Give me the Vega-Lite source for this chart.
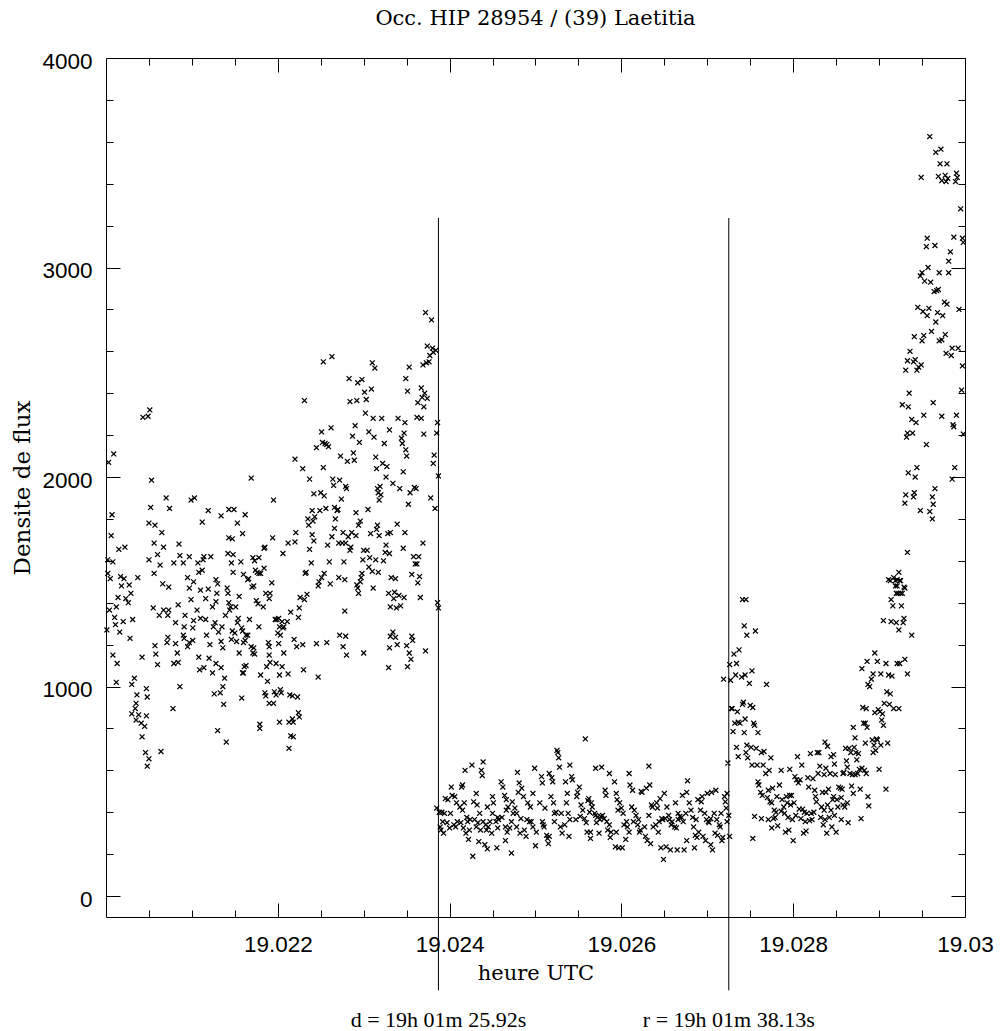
{
"$schema": "https://vega.github.io/schema/vega-lite/v6.json",
"width": 859,
"height": 859,
"autosize": {"type": "none"},
"padding": {"left": 106, "top": 58, "right": 36, "bottom": 114},
"background": "white",
"title": {"text": "Occ. HIP 28954 / (39) Laetitia", "font": "DejaVu Serif", "fontSize": 21, "fontWeight": "normal", "color": "black", "anchor": "middle", "baseline": "alphabetic", "offset": 4},
"config": {
  "view": {"stroke": null},
  "axis": {"labelFont": "Liberation Sans", "labelFontSize": 22.5, "labelColor": "black", "tickColor": "black", "tickWidth": 1, "domainColor": "black", "domainWidth": 1, "titleFont": "DejaVu Serif", "titleFontSize": 21, "titleFontWeight": "normal", "titleColor": "black", "grid": false, "labelOverlap": false, "labelFlush": false, "labelBound": false}
},
"datasets": {
"evt": [{"t": 19.02387, "label": "d = 19h 01m 25.92s"}, {"t": 19.02725, "label": "r = 19h 01m 38.13s"}],
"pts": [
{"t":19.02003,"f":2070},{"t":19.02009,"f":2110},{"t":19.02007,"f":1820},{"t":19.02006,"f":1720},{"t":19.02002,"f":1605},{"t":19.02008,"f":1595},{"t":19.02002,"f":1540},{"t":19.02005,"f":1515},{"t":19.02015,"f":1655},{"t":19.02022,"f":1665},
{"t":19.02017,"f":1525},{"t":19.02021,"f":1515},{"t":19.02018,"f":1480},{"t":19.02027,"f":1485},{"t":19.02029,"f":1445},{"t":19.02023,"f":1420},{"t":19.02026,"f":1400},{"t":19.02014,"f":1425},{"t":19.02004,"f":1365},{"t":19.02012,"f":1380},
{"t":19.02010,"f":1330},{"t":19.02020,"f":1310},{"t":19.02031,"f":1320},{"t":19.02011,"f":1295},{"t":19.02016,"f":1260},{"t":19.02028,"f":1230},{"t":19.02001,"f":1270},{"t":19.02008,"f":1150},{"t":19.02013,"f":1110},{"t":19.02012,"f":1020},
{"t":19.02030,"f":1010},{"t":19.02033,"f":1040},{"t":19.02037,"f":1520},{"t":19.02042,"f":1140},{"t":19.02036,"f":960},{"t":19.02035,"f":920},{"t":19.02034,"f":895},{"t":19.02030,"f":870},{"t":19.02038,"f":865},{"t":19.02047,"f":860},
{"t":19.02035,"f":840},{"t":19.02041,"f":825},{"t":19.02045,"f":810},{"t":19.02042,"f":760},{"t":19.02046,"f":685},{"t":19.02050,"f":655},{"t":19.02048,"f":620},{"t":19.02047,"f":990},{"t":19.02048,"f":950},{"t":19.02043,"f":2285},
{"t":19.02049,"f":2290},{"t":19.02051,"f":2320},{"t":19.02053,"f":1985},{"t":19.02052,"f":1855},{"t":19.02050,"f":1780},{"t":19.02057,"f":1770},{"t":19.02065,"f":1735},{"t":19.02056,"f":1685},{"t":19.02067,"f":1665},{"t":19.02070,"f":1900},
{"t":19.02074,"f":1850},{"t":19.02050,"f":1605},{"t":19.02060,"f":1630},{"t":19.02063,"f":1580},{"t":19.02056,"f":1540},{"t":19.02066,"f":1490},{"t":19.02073,"f":1475},{"t":19.02055,"f":1375},{"t":19.02062,"f":1340},{"t":19.02072,"f":1340},
{"t":19.02067,"f":1365},{"t":19.02073,"f":1365},{"t":19.02057,"f":1195},{"t":19.02058,"f":1155},{"t":19.02060,"f":1105},{"t":19.02072,"f":1235},{"t":19.02071,"f":1210},{"t":19.02078,"f":895},{"t":19.02064,"f":690},{"t":19.02079,"f":1110},
{"t":19.02084,"f":1115},{"t":19.02083,"f":1160},{"t":19.02081,"f":1205},{"t":19.02085,"f":1680},{"t":19.02079,"f":1590},{"t":19.02086,"f":1625},{"t":19.02090,"f":1590},{"t":19.02084,"f":1390},{"t":19.02081,"f":1305},{"t":19.02092,"f":1340},
{"t":19.02091,"f":1285},{"t":19.02090,"f":1245},{"t":19.02091,"f":1230},{"t":19.02086,"f":1000},{"t":19.02095,"f":1520},{"t":19.02097,"f":1470},{"t":19.02102,"f":1500},{"t":19.02097,"f":1620},{"t":19.02107,"f":1590},{"t":19.02113,"f":1605},
{"t":19.02114,"f":1620},{"t":19.02122,"f":1620},{"t":19.02108,"f":1545},{"t":19.02112,"f":1555},{"t":19.02099,"f":1890},{"t":19.02103,"f":1900},{"t":19.02119,"f":1840},{"t":19.02112,"f":1785},{"t":19.02099,"f":1415},{"t":19.02106,"f":1365},
{"t":19.02102,"f":1315},{"t":19.02101,"f":1280},{"t":19.02097,"f":1210},{"t":19.02101,"f":1220},{"t":19.02095,"f":1190},{"t":19.02110,"f":1325},{"t":19.02116,"f":1320},{"t":19.02110,"f":1460},{"t":19.02119,"f":1465},{"t":19.02128,"f":1510},
{"t":19.02130,"f":1490},{"t":19.02116,"f":1420},{"t":19.02124,"f":1380},{"t":19.02128,"f":1405},{"t":19.02108,"f":1140},{"t":19.02109,"f":1080},{"t":19.02114,"f":1090},{"t":19.02120,"f":1135},{"t":19.02124,"f":1065},{"t":19.02128,"f":1110},
{"t":19.02121,"f":1200},{"t":19.02117,"f":1245},{"t":19.02125,"f":1285},{"t":19.02127,"f":1305},{"t":19.02131,"f":1260},{"t":19.02135,"f":1285},{"t":19.02134,"f":1090},{"t":19.02138,"f":1040},{"t":19.02136,"f":1000},{"t":19.02126,"f":965},
{"t":19.02133,"f":970},{"t":19.02137,"f":915},{"t":19.02130,"f":790},{"t":19.02140,"f":735},{"t":19.02134,"f":1215},{"t":19.02136,"f":1185},{"t":19.02129,"f":1445},{"t":19.02134,"f":1815},{"t":19.02143,"f":1845},{"t":19.02149,"f":1845},
{"t":19.02143,"f":1710},{"t":19.02147,"f":1705},{"t":19.02153,"f":1780},{"t":19.02159,"f":1730},{"t":19.02162,"f":1820},{"t":19.02142,"f":1635},{"t":19.02148,"f":1630},{"t":19.02146,"f":1590},{"t":19.02157,"f":1595},{"t":19.02148,"f":1545},
{"t":19.02160,"f":1535},{"t":19.02165,"f":1510},{"t":19.02171,"f":1615},{"t":19.02178,"f":1615},{"t":19.02173,"f":1600},{"t":19.02176,"f":1545},{"t":19.02180,"f":1540},{"t":19.02184,"f":1565},{"t":19.02174,"f":1555},{"t":19.02166,"f":1515},
{"t":19.02170,"f":1475},{"t":19.02172,"f":1480},{"t":19.02185,"f":1665},{"t":19.02195,"f":1890},{"t":19.02193,"f":1495},{"t":19.02186,"f":1445},{"t":19.02191,"f":1445},{"t":19.02190,"f":1420},{"t":19.02183,"f":1380},{"t":19.02175,"f":1410},
{"t":19.02177,"f":1395},{"t":19.02155,"f":1430},{"t":19.02141,"f":1470},{"t":19.02142,"f":1445},{"t":19.02143,"f":1400},{"t":19.02145,"f":1380},{"t":19.02151,"f":1380},{"t":19.02144,"f":1365},{"t":19.02139,"f":1340},{"t":19.02154,"f":1325},
{"t":19.02153,"f":1305},{"t":19.02167,"f":1320},{"t":19.02158,"f":1280},{"t":19.02159,"f":1265},{"t":19.02147,"f":1265},{"t":19.02150,"f":1255},{"t":19.02146,"f":1225},{"t":19.02152,"f":1215},{"t":19.02160,"f":1210},{"t":19.02163,"f":1245},
{"t":19.02165,"f":1245},{"t":19.02162,"f":1220},{"t":19.02169,"f":1190},{"t":19.02172,"f":1185},{"t":19.02171,"f":1160},{"t":19.02173,"f":1155},{"t":19.02155,"f":1160},{"t":19.02163,"f":1100},{"t":19.02161,"f":1095},{"t":19.02159,"f":1065},
{"t":19.02160,"f":1065},{"t":19.02178,"f":1285},{"t":19.02189,"f":1210},{"t":19.02190,"f":1190},{"t":19.02190,"f":1150},{"t":19.02191,"f":1115},{"t":19.02187,"f":1095},{"t":19.02180,"f":1055},{"t":19.02188,"f":1025},{"t":19.02198,"f":1110},
{"t":19.02202,"f":1055},{"t":19.02205,"f":1095},{"t":19.02212,"f":1060},{"t":19.02207,"f":1160},{"t":19.02201,"f":1205},{"t":19.02200,"f":1255},{"t":19.02202,"f":1285},{"t":19.02203,"f":1245},{"t":19.02206,"f":1280},{"t":19.02207,"f":1285},
{"t":19.02197,"f":1320},{"t":19.02199,"f":1320},{"t":19.02201,"f":1325},{"t":19.02205,"f":1310},{"t":19.02211,"f":1310},{"t":19.02215,"f":1355},{"t":19.02219,"f":1225},{"t":19.02222,"f":1190},{"t":19.02224,"f":1330},{"t":19.02225,"f":1375},
{"t":19.02226,"f":1425},{"t":19.02231,"f":1415},{"t":19.02229,"f":1200},{"t":19.02230,"f":1080},{"t":19.02223,"f":950},{"t":19.02217,"f":955},{"t":19.02214,"f":960},{"t":19.02198,"f":960},{"t":19.02195,"f":920},{"t":19.02186,"f":955},
{"t":19.02185,"f":970},{"t":19.02190,"f":920},{"t":19.02196,"f":975},{"t":19.02204,"f":970},{"t":19.02203,"f":985},{"t":19.02158,"f":945},{"t":19.02213,"f":830},{"t":19.02218,"f":830},{"t":19.02224,"f":875},{"t":19.02225,"f":855},
{"t":19.02217,"f":845},{"t":19.02215,"f":765},{"t":19.02218,"f":760},{"t":19.02213,"f":705},{"t":19.02202,"f":830},{"t":19.02179,"f":820},{"t":19.02179,"f":800},{"t":19.02220,"f":2085},{"t":19.02229,"f":2040},{"t":19.02221,"f":1735},
{"t":19.02220,"f":1690},{"t":19.02212,"f":1685},{"t":19.02206,"f":1635},{"t":19.02231,"f":2365},{"t":19.02232,"f":1540},{"t":19.02194,"f":1710},{"t":19.02184,"f":1660},{"t":19.02178,"f":1540},{"t":19.02169,"f":1995},
{"t":19.02372,"f":2785},{"t":19.02379,"f":2750},{"t":19.02374,"f":2625},{"t":19.02380,"f":2615},{"t":19.02384,"f":2605},{"t":19.02381,"f":2595},{"t":19.02377,"f":2580},{"t":19.02373,"f":2545},{"t":19.02376,"f":2550},{"t":19.02369,"f":2535},
{"t":19.02353,"f":2525},{"t":19.02310,"f":2545},{"t":19.02313,"f":2520},{"t":19.02263,"f":2575},{"t":19.02253,"f":2550},{"t":19.02283,"f":2470},{"t":19.02293,"f":2450},{"t":19.02298,"f":2465},{"t":19.02309,"f":2420},{"t":19.02301,"f":2405},
{"t":19.02349,"f":2470},{"t":19.02351,"f":2410},{"t":19.02367,"f":2425},{"t":19.02371,"f":2400},{"t":19.02374,"f":2375},{"t":19.02368,"f":2380},{"t":19.02363,"f":2355},{"t":19.02370,"f":2335},{"t":19.02284,"f":2360},{"t":19.02292,"f":2365},
{"t":19.02303,"f":2370},{"t":19.02302,"f":2305},{"t":19.02311,"f":2280},{"t":19.02321,"f":2280},{"t":19.02340,"f":2280},{"t":19.02348,"f":2260},{"t":19.02362,"f":2285},{"t":19.02367,"f":2280},{"t":19.02386,"f":2260},{"t":19.02385,"f":2210},
{"t":19.02370,"f":2205},{"t":19.02330,"f":2225},{"t":19.02347,"f":2210},{"t":19.02344,"f":2185},{"t":19.02345,"f":2160},{"t":19.02349,"f":2130},{"t":19.02350,"f":2100},{"t":19.02324,"f":2160},{"t":19.02312,"f":2190},{"t":19.02306,"f":2215},
{"t":19.02290,"f":2245},{"t":19.02287,"f":2195},{"t":19.02295,"f":2165},{"t":19.02262,"f":2235},{"t":19.02251,"f":2215},{"t":19.02252,"f":2165},{"t":19.02255,"f":2160},{"t":19.02259,"f":2145},{"t":19.02257,"f":2155},{"t":19.02245,"f":2140},
{"t":19.02273,"f":2100},{"t":19.02281,"f":2075},{"t":19.02288,"f":2115},{"t":19.02289,"f":2080},{"t":19.02314,"f":2095},{"t":19.02315,"f":2040},{"t":19.02322,"f":2065},{"t":19.02327,"f":2050},{"t":19.02326,"f":2000},{"t":19.02334,"f":1970},
{"t":19.02346,"f":2025},{"t":19.02382,"f":2105},{"t":19.02381,"f":2065},{"t":19.02387,"f":2005},{"t":19.02253,"f":2045},{"t":19.02237,"f":1990},{"t":19.02264,"f":1990},{"t":19.02265,"f":1960},{"t":19.02272,"f":1985},{"t":19.02279,"f":1955},
{"t":19.02280,"f":1945},{"t":19.02316,"f":1945},{"t":19.02319,"f":1955},{"t":19.02317,"f":1925},{"t":19.02320,"f":1915},{"t":19.02318,"f":1890},{"t":19.02342,"f":1945},{"t":19.02359,"f":1950},{"t":19.02361,"f":1945},{"t":19.02354,"f":1925},
{"t":19.02352,"f":1870},{"t":19.02378,"f":1900},{"t":19.02383,"f":1850},{"t":19.02242,"f":1920},{"t":19.02250,"f":1925},{"t":19.02254,"f":1910},{"t":19.02274,"f":1895},{"t":19.02305,"f":1845},{"t":19.02291,"f":1830},{"t":19.02240,"f":1840},
{"t":19.02249,"f":1840},{"t":19.02256,"f":1850},{"t":19.02266,"f":1855},{"t":19.02269,"f":1840},{"t":19.02270,"f":1845},{"t":19.02235,"f":1800},{"t":19.02236,"f":1770},{"t":19.02243,"f":1810},{"t":19.02241,"f":1790},{"t":19.02267,"f":1800},
{"t":19.02296,"f":1790},{"t":19.02294,"f":1770},{"t":19.02316,"f":1770},{"t":19.02315,"f":1750},{"t":19.02339,"f":1775},{"t":19.02240,"f":1725},{"t":19.02242,"f":1695},{"t":19.02266,"f":1755},{"t":19.02263,"f":1715},{"t":19.02276,"f":1735},
{"t":19.02282,"f":1715},{"t":19.02286,"f":1735},{"t":19.02291,"f":1720},{"t":19.02308,"f":1730},{"t":19.02318,"f":1720},{"t":19.02328,"f":1730},{"t":19.02331,"f":1735},{"t":19.02348,"f":1735},{"t":19.02258,"f":1675},{"t":19.02271,"f":1685},
{"t":19.02275,"f":1685},{"t":19.02279,"f":1685},{"t":19.02285,"f":1665},{"t":19.02284,"f":1650},{"t":19.02326,"f":1675},{"t":19.02325,"f":1640},{"t":19.02330,"f":1635},{"t":19.02346,"f":1660},{"t":19.02369,"f":1685},{"t":19.02300,"f":1650},
{"t":19.02304,"f":1650},{"t":19.02237,"f":1655},{"t":19.02239,"f":1590},{"t":19.02260,"f":1595},{"t":19.02277,"f":1595},{"t":19.02299,"f":1605},{"t":19.02307,"f":1615},{"t":19.02314,"f":1605},{"t":19.02323,"f":1600},{"t":19.02306,"f":1570},
{"t":19.02310,"f":1550},{"t":19.02317,"f":1545},{"t":19.02358,"f":1620},{"t":19.02364,"f":1620},{"t":19.02360,"f":1585},{"t":19.02362,"f":1585},{"t":19.02233,"f":1545},{"t":19.02254,"f":1540},{"t":19.02298,"f":1540},{"t":19.02297,"f":1520},
{"t":19.02296,"f":1500},{"t":19.02356,"f":1535},{"t":19.02365,"f":1525},{"t":19.02363,"f":1495},{"t":19.02251,"f":1520},{"t":19.02248,"f":1500},{"t":19.02247,"f":1480},{"t":19.02261,"f":1490},{"t":19.02271,"f":1520},{"t":19.02278,"f":1510},
{"t":19.02292,"f":1485},{"t":19.02293,"f":1470},{"t":19.02294,"f":1445},{"t":19.02311,"f":1470},{"t":19.02332,"f":1520},{"t":19.02337,"f":1515},{"t":19.02329,"f":1445},{"t":19.02336,"f":1450},{"t":19.02341,"f":1435},{"t":19.02335,"f":1420},
{"t":19.02347,"f":1425},{"t":19.02331,"f":1380},{"t":19.02338,"f":1375},{"t":19.02343,"f":1385},{"t":19.02366,"f":1425},{"t":19.02386,"f":1400},{"t":19.02387,"f":1375},{"t":19.02234,"f":1440},{"t":19.02278,"f":1360},{"t":19.02272,"f":1245},
{"t":19.02279,"f":1240},{"t":19.02276,"f":1190},{"t":19.02280,"f":1150},{"t":19.02245,"f":1205},{"t":19.02257,"f":1210},{"t":19.02300,"f":1160},{"t":19.02334,"f":1260},{"t":19.02331,"f":1240},{"t":19.02337,"f":1235},{"t":19.02330,"f":1185},
{"t":19.02339,"f":1200},{"t":19.02350,"f":1195},{"t":19.02356,"f":1240},{"t":19.02357,"f":1220},{"t":19.02353,"f":1160},{"t":19.02355,"f":1130},{"t":19.02351,"f":1095},{"t":19.02329,"f":1090},{"t":19.02372,"f":1170},{"t":19.02247,"f":1045},
{"t":19.02385,"f":420},{"t":19.02388,"f":400},{"t":19.02391,"f":400},{"t":19.02394,"f":395},{"t":19.02392,"f":355},{"t":19.02389,"f":330},{"t":19.02390,"f":315},{"t":19.02395,"f":465},{"t":19.02398,"f":460},{"t":19.02402,"f":520},
{"t":19.02403,"f":480},{"t":19.02406,"f":475},{"t":19.02397,"f":350},{"t":19.02400,"f":325},{"t":19.02405,"f":340},{"t":19.02409,"f":355},{"t":19.02408,"f":445},{"t":19.02412,"f":425},{"t":19.02414,"f":520},{"t":19.02415,"f":530},
{"t":19.02413,"f":350},{"t":19.02416,"f":325},{"t":19.02420,"f":375},{"t":19.02421,"f":355},{"t":19.02417,"f":445},{"t":19.02419,"f":300},{"t":19.02423,"f":315},{"t":19.02418,"f":600},{"t":19.02426,"f":625},{"t":19.02437,"f":600},
{"t":19.02438,"f":575},{"t":19.02439,"f":640},{"t":19.02427,"f":190},{"t":19.02428,"f":450},{"t":19.02431,"f":490},{"t":19.02432,"f":435},{"t":19.02429,"f":365},{"t":19.02433,"f":350},{"t":19.02435,"f":395},{"t":19.02436,"f":315},
{"t":19.02434,"f":260},{"t":19.02441,"f":245},{"t":19.02444,"f":225},{"t":19.02455,"f":230},{"t":19.02442,"f":340},{"t":19.02445,"f":330},{"t":19.02447,"f":355},{"t":19.02449,"f":300},{"t":19.02450,"f":475},{"t":19.02451,"f":445},
{"t":19.02456,"f":375},{"t":19.02457,"f":365},{"t":19.02460,"f":545},{"t":19.02462,"f":520},{"t":19.02464,"f":480},{"t":19.02466,"f":460},{"t":19.02468,"f":425},{"t":19.02461,"f":375},{"t":19.02465,"f":330},{"t":19.02467,"f":305},
{"t":19.02470,"f":325},{"t":19.02472,"f":205},{"t":19.02473,"f":450},{"t":19.02476,"f":420},{"t":19.02478,"f":395},{"t":19.02479,"f":590},{"t":19.02481,"f":540},{"t":19.02484,"f":515},{"t":19.02480,"f":495},{"t":19.02482,"f":300},
{"t":19.02487,"f":315},{"t":19.02490,"f":365},{"t":19.02493,"f":355},{"t":19.02495,"f":355},{"t":19.02486,"f":475},{"t":19.02491,"f":445},{"t":19.02494,"f":425},{"t":19.02497,"f":490},{"t":19.02499,"f":610},{"t":19.02500,"f":240},
{"t":19.02505,"f":445},{"t":19.02507,"f":570},{"t":19.02508,"f":540},{"t":19.02509,"f":340},{"t":19.02510,"f":330},{"t":19.02513,"f":290},{"t":19.02514,"f":275},{"t":19.02515,"f":250},{"t":19.02516,"f":585},{"t":19.02519,"f":565},
{"t":19.02520,"f":545},{"t":19.02518,"f":475},{"t":19.02521,"f":445},{"t":19.02522,"f":395},{"t":19.02524,"f":400},{"t":19.02525,"f":695},{"t":19.02526,"f":685},{"t":19.02527,"f":660},{"t":19.02528,"f":615},{"t":19.02530,"f":395},
{"t":19.02531,"f":300},{"t":19.02534,"f":340},{"t":19.02536,"f":445},{"t":19.02537,"f":490},{"t":19.02540,"f":625},{"t":19.02542,"f":570},{"t":19.02543,"f":555},{"t":19.02535,"f":545},{"t":19.02548,"f":475},{"t":19.02549,"f":495},
{"t":19.02551,"f":520},{"t":19.02553,"f":435},{"t":19.02555,"f":410},{"t":19.02557,"f":370},{"t":19.02559,"f":350},{"t":19.02560,"f":305},{"t":19.02558,"f":750},{"t":19.02561,"f":455},{"t":19.02562,"f":465},{"t":19.02565,"f":445},
{"t":19.02566,"f":425},{"t":19.02564,"f":275},{"t":19.02569,"f":395},{"t":19.02571,"f":350},{"t":19.02572,"f":375},{"t":19.02574,"f":300},{"t":19.02570,"f":610},{"t":19.02577,"f":615},{"t":19.02578,"f":385},{"t":19.02580,"f":370},
{"t":19.02583,"f":355},{"t":19.02584,"f":315},{"t":19.02581,"f":505},{"t":19.02582,"f":480},{"t":19.02586,"f":585},{"t":19.02587,"f":280},{"t":19.02588,"f":305},{"t":19.02592,"f":545},{"t":19.02594,"f":490},{"t":19.02595,"f":460},
{"t":19.02598,"f":445},{"t":19.02593,"f":235},{"t":19.02597,"f":230},{"t":19.02601,"f":230},{"t":19.02600,"f":420},{"t":19.02602,"f":395},{"t":19.02606,"f":355},{"t":19.02607,"f":330},{"t":19.02605,"f":270},{"t":19.02609,"f":585},
{"t":19.02610,"f":530},{"t":19.02613,"f":505},{"t":19.02612,"f":425},{"t":19.02615,"f":410},{"t":19.02617,"f":385},{"t":19.02619,"f":340},{"t":19.02621,"f":305},{"t":19.02623,"f":500},{"t":19.02624,"f":495},{"t":19.02629,"f":515},
{"t":19.02633,"f":530},{"t":19.02632,"f":620},{"t":19.02622,"f":315},{"t":19.02627,"f":330},{"t":19.02630,"f":265},{"t":19.02634,"f":250},{"t":19.02635,"f":435},{"t":19.02636,"f":425},{"t":19.02641,"f":445},{"t":19.02642,"f":420},
{"t":19.02640,"f":340},{"t":19.02644,"f":355},{"t":19.02647,"f":370},{"t":19.02648,"f":365},{"t":19.02646,"f":230},{"t":19.02649,"f":175},{"t":19.02652,"f":235},{"t":19.02645,"f":465},{"t":19.02650,"f":490},{"t":19.02653,"f":425},
{"t":19.02656,"f":365},{"t":19.02658,"f":340},{"t":19.02659,"f":355},{"t":19.02662,"f":330},{"t":19.02664,"f":325},{"t":19.02657,"f":220},{"t":19.02665,"f":220},{"t":19.02673,"f":220},{"t":19.02685,"f":230},{"t":19.02663,"f":445},
{"t":19.02666,"f":395},{"t":19.02670,"f":375},{"t":19.02671,"f":480},{"t":19.02676,"f":495},{"t":19.02677,"f":550},{"t":19.02679,"f":445},{"t":19.02681,"f":410},{"t":19.02683,"f":375},{"t":19.02687,"f":365},{"t":19.02686,"f":290},
{"t":19.02688,"f":280},{"t":19.02689,"f":460},{"t":19.02693,"f":450},{"t":19.02694,"f":475},{"t":19.02692,"f":410},{"t":19.02697,"f":395},{"t":19.02699,"f":365},{"t":19.02702,"f":350},{"t":19.02700,"f":490},{"t":19.02705,"f":495},
{"t":19.02710,"f":505},{"t":19.02698,"f":265},{"t":19.02704,"f":245},{"t":19.02706,"f":220},{"t":19.02708,"f":395},{"t":19.02711,"f":365},{"t":19.02714,"f":340},{"t":19.02716,"f":395},{"t":19.02712,"f":290},{"t":19.02717,"f":265},
{"t":19.02718,"f":280},{"t":19.02720,"f":475},{"t":19.02721,"f":450},{"t":19.02722,"f":420},{"t":19.02719,"f":1035},{"t":19.02723,"f":490},{"t":19.02726,"f":285},{"t":19.02725,"f":385},
{"t":19.02431,"f":330},{"t":19.02439,"f":355},{"t":19.02443,"f":315},{"t":19.02450,"f":395},{"t":19.02454,"f":355},{"t":19.02456,"f":325},{"t":19.02466,"f":410},{"t":19.02472,"f":355},{"t":19.02478,"f":330},{"t":19.02483,"f":370},
{"t":19.02497,"f":330},{"t":19.02501,"f":305},{"t":19.02508,"f":355},{"t":19.02516,"f":285},{"t":19.02522,"f":355},{"t":19.02529,"f":330},{"t":19.02540,"f":365},{"t":19.02547,"f":365},{"t":19.02552,"f":380},{"t":19.02563,"f":400},
{"t":19.02570,"f":385},{"t":19.02575,"f":365},{"t":19.02576,"f":380},{"t":19.02586,"f":340},{"t":19.02594,"f":305},{"t":19.02603,"f":340},{"t":19.02609,"f":305},{"t":19.02614,"f":355},{"t":19.02620,"f":365},{"t":19.02637,"f":330},
{"t":19.02643,"f":305},{"t":19.02651,"f":370},{"t":19.02655,"f":385},{"t":19.02666,"f":365},{"t":19.02668,"f":380},{"t":19.02672,"f":355},{"t":19.02675,"f":395},{"t":19.02684,"f":330},{"t":19.02690,"f":305},{"t":19.02695,"f":285},
{"t":19.02701,"f":355},{"t":19.02704,"f":370},{"t":19.02709,"f":300},{"t":19.02715,"f":330},{"t":19.02723,"f":355},{"t":19.02401,"f":395},{"t":19.02415,"f":410},{"t":19.02424,"f":365},{"t":19.02407,"f":330},{"t":19.02393,"f":300},
{"t":19.02422,"f":270},{"t":19.02465,"f":265},{"t":19.02489,"f":285},{"t":19.02539,"f":285},{"t":19.02564,"f":305},{"t":19.02628,"f":285},{"t":19.02676,"f":265},{"t":19.02632,"f":385},{"t":19.02596,"f":410},{"t":19.02511,"f":420},
{"t":19.02474,"f":395},{"t":19.02444,"f":425},{"t":19.02538,"f":395},
{"t":19.02741,"f":1415},{"t":19.02745,"f":1415},{"t":19.02743,"f":1290},{"t":19.02746,"f":1245},{"t":19.02756,"f":1265},{"t":19.02737,"f":1175},{"t":19.02731,"f":1155},{"t":19.02734,"f":1110},{"t":19.02726,"f":1105},{"t":19.02752,"f":1075},
{"t":19.02744,"f":1055},{"t":19.02740,"f":1045},{"t":19.02733,"f":1055},{"t":19.02727,"f":1030},{"t":19.02749,"f":1015},{"t":19.02769,"f":1010},{"t":19.02728,"f":895},{"t":19.02729,"f":895},{"t":19.02742,"f":925},{"t":19.02741,"f":915},
{"t":19.02735,"f":880},{"t":19.02750,"f":910},{"t":19.02753,"f":900},{"t":19.02732,"f":825},{"t":19.02736,"f":830},{"t":19.02744,"f":845},{"t":19.02738,"f":825},{"t":19.02754,"f":825},{"t":19.02755,"f":815},{"t":19.02730,"f":785},
{"t":19.02743,"f":780},{"t":19.02759,"f":780},{"t":19.02734,"f":710},{"t":19.02736,"f":665},{"t":19.02746,"f":720},{"t":19.02751,"f":710},{"t":19.02757,"f":705},{"t":19.02745,"f":685},{"t":19.02747,"f":660},{"t":19.02763,"f":685},
{"t":19.02766,"f":690},{"t":19.02724,"f":635},{"t":19.02752,"f":625},{"t":19.02758,"f":625},{"t":19.02765,"f":625},{"t":19.02774,"f":660},{"t":19.02772,"f":600},{"t":19.02768,"f":585},{"t":19.02759,"f":545},{"t":19.02760,"f":530},
{"t":19.02762,"f":495},{"t":19.02764,"f":480},{"t":19.02771,"f":505},{"t":19.02776,"f":515},{"t":19.02784,"f":530},{"t":19.02770,"f":470},{"t":19.02773,"f":450},{"t":19.02775,"f":445},{"t":19.02781,"f":475},{"t":19.02787,"f":460},
{"t":19.02792,"f":475},{"t":19.02798,"f":480},{"t":19.02778,"f":410},{"t":19.02780,"f":400},{"t":19.02786,"f":405},{"t":19.02790,"f":395},{"t":19.02771,"f":365},{"t":19.02777,"f":370},{"t":19.02779,"f":375},{"t":19.02775,"f":325},
{"t":19.02782,"f":335},{"t":19.02755,"f":380},{"t":19.02763,"f":370},{"t":19.02753,"f":275},{"t":19.02789,"f":425},{"t":19.02793,"f":445},{"t":19.02797,"f":435},{"t":19.02801,"f":445},{"t":19.02794,"f":375},{"t":19.02799,"f":365},
{"t":19.02803,"f":385},{"t":19.02807,"f":415},{"t":19.02791,"f":305},{"t":19.02795,"f":315},{"t":19.02800,"f":265},{"t":19.02786,"f":600},{"t":19.02796,"f":605},{"t":19.02802,"f":570},{"t":19.02804,"f":555},{"t":19.02806,"f":540},
{"t":19.02805,"f":665},{"t":19.02810,"f":625},{"t":19.02796,"f":480},{"t":19.02811,"f":415},{"t":19.02813,"f":400},{"t":19.02816,"f":395},{"t":19.02821,"f":395},{"t":19.02824,"f":400},{"t":19.02809,"f":370},{"t":19.02814,"f":355},
{"t":19.02819,"f":360},{"t":19.02822,"f":365},{"t":19.02812,"f":300},{"t":19.02815,"f":310},{"t":19.02808,"f":555},{"t":19.02817,"f":565},{"t":19.02818,"f":520},{"t":19.02823,"f":560},{"t":19.02825,"f":505},{"t":19.02826,"f":475},
{"t":19.02827,"f":450},{"t":19.02820,"f":680},{"t":19.02828,"f":685},{"t":19.02830,"f":685},{"t":19.02829,"f":585},{"t":19.02831,"f":620},{"t":19.02838,"f":610},{"t":19.02833,"f":425},{"t":19.02836,"f":410},{"t":19.02840,"f":435},
{"t":19.02844,"f":410},{"t":19.02832,"f":375},{"t":19.02837,"f":365},{"t":19.02842,"f":375},{"t":19.02848,"f":385},{"t":19.02835,"f":340},{"t":19.02845,"f":330},{"t":19.02839,"f":300},{"t":19.02850,"f":305},{"t":19.02834,"f":495},
{"t":19.02838,"f":495},{"t":19.02841,"f":510},{"t":19.02847,"f":475},{"t":19.02846,"f":460},{"t":19.02851,"f":460},{"t":19.02856,"f":470},{"t":19.02836,"f":580},{"t":19.02843,"f":585},{"t":19.02849,"f":580},{"t":19.02844,"f":665},
{"t":19.02847,"f":675},{"t":19.02848,"f":630},{"t":19.02837,"f":735},{"t":19.02840,"f":715},{"t":19.02853,"f":520},{"t":19.02855,"f":515},{"t":19.02857,"f":510},{"t":19.02852,"f":425},{"t":19.02858,"f":435},{"t":19.02860,"f":425},
{"t":19.02863,"f":445},{"t":19.02856,"f":365},{"t":19.02864,"f":350},{"t":19.02858,"f":585},{"t":19.02859,"f":590},{"t":19.02862,"f":645},{"t":19.02863,"f":615},{"t":19.02866,"f":585},{"t":19.02869,"f":580},{"t":19.02861,"f":705},
{"t":19.02865,"f":705},{"t":19.02871,"f":710},{"t":19.02867,"f":685},{"t":19.02873,"f":685},{"t":19.02876,"f":680},{"t":19.02874,"f":650},{"t":19.02872,"f":580},{"t":19.02875,"f":585},{"t":19.02877,"f":605},{"t":19.02880,"f":610},
{"t":19.02883,"f":600},{"t":19.02885,"f":585},{"t":19.02868,"f":525},{"t":19.02870,"f":490},{"t":19.02878,"f":510},{"t":19.02870,"f":805},{"t":19.02872,"f":755},{"t":19.02879,"f":370},{"t":19.02887,"f":475},{"t":19.02888,"f":430},
{"t":19.02882,"f":825},{"t":19.02884,"f":825},{"t":19.02886,"f":805},{"t":19.02884,"f":730},{"t":19.02892,"f":745},{"t":19.02894,"f":720},{"t":19.02897,"f":750},{"t":19.02898,"f":745},{"t":19.02902,"f":720},{"t":19.02893,"f":685},
{"t":19.02896,"f":695},{"t":19.02910,"f":730},{"t":19.02900,"f":605},{"t":19.02908,"f":510},{"t":19.02881,"f":900},{"t":19.02885,"f":895},{"t":19.02895,"f":875},{"t":19.02899,"f":890},{"t":19.02901,"f":880},{"t":19.02904,"f":870},
{"t":19.02906,"f":920},{"t":19.02912,"f":915},{"t":19.02917,"f":895},{"t":19.02923,"f":895},{"t":19.02903,"f":840},{"t":19.02905,"f":815},{"t":19.02887,"f":1010},{"t":19.02889,"f":1000},{"t":19.02891,"f":1035},{"t":19.02909,"f":975},
{"t":19.02913,"f":965},{"t":19.02880,"f":1085},{"t":19.02893,"f":1060},{"t":19.02902,"f":1060},{"t":19.02911,"f":1055},{"t":19.02915,"f":1050},{"t":19.02933,"f":1060},{"t":19.02886,"f":1120},{"t":19.02898,"f":1120},{"t":19.02895,"f":1160},
{"t":19.02908,"f":1110},{"t":19.02921,"f":1110},{"t":19.02924,"f":1110},{"t":19.02930,"f":1130},{"t":19.02905,"f":1315},{"t":19.02914,"f":1310},{"t":19.02920,"f":1305},{"t":19.02929,"f":1325},{"t":19.02928,"f":1305},{"t":19.02923,"f":1270},
{"t":19.02938,"f":1245},{"t":19.02914,"f":1415},{"t":19.02916,"f":1385},{"t":19.02922,"f":1445},{"t":19.02927,"f":1445},{"t":19.02926,"f":1385},{"t":19.02930,"f":1470},{"t":19.02913,"f":1505},{"t":19.02919,"f":1505},{"t":19.02924,"f":1505},
{"t":19.02921,"f":1480},
{"t":19.02959,"f":3625},{"t":19.02966,"f":3550},{"t":19.02972,"f":3565},{"t":19.02971,"f":3495},{"t":19.02979,"f":3495},{"t":19.02949,"f":3430},{"t":19.02969,"f":3435},{"t":19.02973,"f":3415},{"t":19.02977,"f":3440},{"t":19.02980,"f":3425},
{"t":19.02978,"f":3410},{"t":19.02990,"f":3450},{"t":19.02991,"f":3430},{"t":19.02989,"f":3410},{"t":19.02995,"f":3280},{"t":19.02956,"f":3140},{"t":19.02955,"f":3100},{"t":19.02965,"f":3105},{"t":19.02987,"f":3145},{"t":19.02997,"f":3140},
{"t":19.02998,"f":3120},{"t":19.02983,"f":3075},{"t":19.02981,"f":3030},{"t":19.02957,"f":3000},{"t":19.02950,"f":2975},{"t":19.02948,"f":2960},{"t":19.02953,"f":2935},{"t":19.02960,"f":2930},{"t":19.02970,"f":2975},{"t":19.02981,"f":2975},
{"t":19.02964,"f":2885},{"t":19.02967,"f":2890},{"t":19.02969,"f":2895},{"t":19.02976,"f":2835},{"t":19.02979,"f":2825},{"t":19.02945,"f":2810},{"t":19.02951,"f":2790},{"t":19.02956,"f":2770},{"t":19.02958,"f":2805},{"t":19.02968,"f":2785},
{"t":19.02974,"f":2770},{"t":19.02966,"f":2740},{"t":19.02993,"f":2800},{"t":19.02941,"f":2670},{"t":19.02952,"f":2675},{"t":19.02950,"f":2650},{"t":19.02961,"f":2695},{"t":19.02970,"f":2650},{"t":19.02973,"f":2655},{"t":19.02977,"f":2680},
{"t":19.02936,"f":2600},{"t":19.02985,"f":2615},{"t":19.02984,"f":2580},{"t":19.02992,"f":2615},{"t":19.02978,"f":2590},{"t":19.02940,"f":2550},{"t":19.02933,"f":2555},{"t":19.02942,"f":2560},{"t":19.02931,"f":2510},{"t":19.02946,"f":2525},
{"t":19.02949,"f":2535},{"t":19.02944,"f":2510},{"t":19.02935,"f":2400},{"t":19.02927,"f":2345},{"t":19.02934,"f":2335},{"t":19.02938,"f":2275},{"t":19.02943,"f":2260},{"t":19.02952,"f":2295},{"t":19.02963,"f":2355},{"t":19.02973,"f":2290},
{"t":19.02990,"f":2295},{"t":19.02986,"f":2250},{"t":19.02987,"f":2240},{"t":19.02996,"f":2415},{"t":19.02997,"f":2530},{"t":19.02933,"f":2210},{"t":19.02939,"f":2210},{"t":19.02932,"f":2190},{"t":19.02955,"f":2155},{"t":19.02998,"f":2205},
{"t":19.02934,"f":2020},{"t":19.02944,"f":2045},{"t":19.02942,"f":2000},{"t":19.02988,"f":2045},{"t":19.02985,"f":1990},{"t":19.02965,"f":1945},{"t":19.02931,"f":1915},{"t":19.02930,"f":1875},{"t":19.02941,"f":1925},{"t":19.02940,"f":1905},
{"t":19.02962,"f":1905},{"t":19.02963,"f":1870},{"t":19.02948,"f":1840},{"t":19.02959,"f":1835},{"t":19.02962,"f":1800},{"t":19.02933,"f":1640},{"t":19.02923,"f":1545},{"t":19.02911,"f":1510},{"t":19.02917,"f":1520},{"t":19.02921,"f":1510},
{"t":19.02925,"f":1505},{"t":19.02919,"f":1480},{"t":19.02929,"f":1475},{"t":19.02920,"f":1445},{"t":19.02925,"f":1445}
]
},
"resolve": {"axis": {"x": "independent", "y": "independent"}},
"layer": [
{
  "data": {"name": "pts"},
  "mark": {"type": "point", "shape": "M-1,-1L1,1M-1,1L1,-1", "filled": false, "stroke": "black", "strokeWidth": 1.25, "size": 24, "opacity": 1},
  "encoding": {
    "x": {"field": "t", "type": "quantitative", "scale": {"domain": [19.02, 19.03], "nice": false, "zero": false},
      "axis": {"orient": "bottom", "values": [19.0205,19.021,19.0215,19.022,19.0225,19.023,19.0235,19.024,19.0245,19.025,19.0255,19.026,19.0265,19.027,19.0275,19.028,19.0285,19.029,19.0295,19.03],
        "labelExpr": "abs(datum.value*500-round(datum.value*500))<0.001 ? ''+datum.value : ''",
        "tickSize": {"condition": {"test": "abs(datum.value*500-round(datum.value*500))<0.001", "value": -14}, "value": -7},
        "labelPadding": 30, "title": "heure UTC", "titleFont": "DejaVu Serif", "titleFontSize": 21, "titleY": 62, "titleBaseline": "alphabetic"}},
    "y": {"field": "f", "type": "quantitative", "scale": {"domain": [-100, 4000], "nice": false, "zero": false},
      "axis": {"orient": "left", "values": [0,200,400,600,800,1000,1200,1400,1600,1800,2000,2200,2400,2600,2800,3000,3200,3400,3600,3800,4000],
        "labelExpr": "datum.value % 1000 == 0 ? ''+datum.value : ''",
        "tickSize": {"condition": {"test": "datum.value % 1000 == 0", "value": -14}, "value": -7},
        "labelPadding": 28, "labelOffset": 3, "title": "Densite de flux", "titleFont": "DejaVu Serif", "titleFontSize": 23, "titleX": -77, "titleBaseline": "alphabetic"}}
  }
},
{
  "data": {"name": "evt"},
  "mark": {"type": "rule", "stroke": "black", "strokeWidth": 1},
  "encoding": {
    "x": {"field": "t", "type": "quantitative", "scale": {"domain": [19.02, 19.03], "nice": false, "zero": false},
      "axis": {"orient": "top", "values": [19.0205,19.021,19.0215,19.022,19.0225,19.023,19.0235,19.024,19.0245,19.025,19.0255,19.026,19.0265,19.027,19.0275,19.028,19.0285,19.029,19.0295,19.03],
        "labels": false, "title": null,
        "tickSize": {"condition": {"test": "abs(datum.value*500-round(datum.value*500))<0.001", "value": -14}, "value": -7}}},
    "y": {"datum": 3236, "type": "quantitative", "scale": {"domain": [-100, 4000], "nice": false, "zero": false},
      "axis": {"orient": "right", "values": [0,200,400,600,800,1000,1200,1400,1600,1800,2000,2200,2400,2600,2800,3000,3200,3400,3600,3800,4000],
        "labels": false, "title": null,
        "tickSize": {"condition": {"test": "datum.value % 1000 == 0", "value": -14}, "value": -7}}},
    "y2": {"datum": -450}
  }
},
{
  "data": {"name": "evt"},
  "mark": {"type": "text", "font": "Liberation Serif", "fontSize": 22, "color": "black", "align": "center", "baseline": "alphabetic"},
  "encoding": {
    "x": {"field": "t", "type": "quantitative", "scale": {"domain": [19.02, 19.03], "nice": false, "zero": false}, "axis": null},
    "y": {"datum": -625, "type": "quantitative", "scale": {"domain": [-100, 4000], "nice": false, "zero": false}, "axis": null},
    "text": {"field": "label"}
  }
}
]
}
